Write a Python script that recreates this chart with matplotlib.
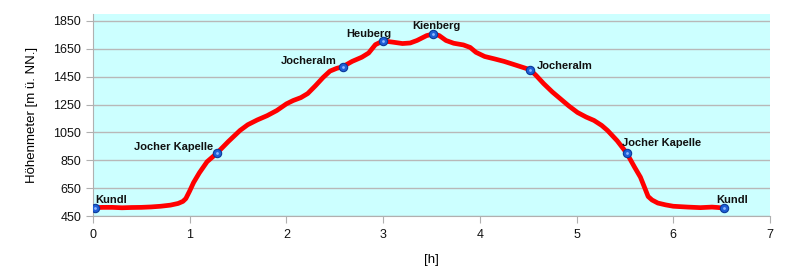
import matplotlib.pyplot as plt
import numpy as np

# profile of the walk: time [h] vs. altitude [m]
t = [0.02, 0.1, 0.2, 0.3, 0.4, 0.5, 0.6, 0.7, 0.8, 0.88, 0.93, 0.96,
     1.0, 1.04, 1.1, 1.18, 1.28, 1.4, 1.52, 1.6, 1.7, 1.8, 1.9, 2.0,
     2.07, 2.15, 2.22, 2.3, 2.38, 2.45, 2.52, 2.58, 2.68, 2.78, 2.85, 2.92,
     3.0, 3.1, 3.2, 3.28, 3.35, 3.45, 3.52, 3.58, 3.65, 3.73, 3.83, 3.9,
     3.96, 4.05, 4.15, 4.25, 4.39, 4.52, 4.58, 4.66, 4.75, 4.83, 4.92, 5.01,
     5.1, 5.18, 5.26, 5.32, 5.42, 5.52, 5.6, 5.66, 5.7, 5.74, 5.78, 5.84,
     5.92, 6.0, 6.15, 6.28, 6.4, 6.46, 6.52]
h = [510, 512, 512, 509, 511, 512, 515, 520, 528, 540, 555, 575,
     630, 690, 760, 840, 900, 985, 1064, 1105, 1140, 1170, 1207, 1255,
     1279, 1300, 1329, 1385, 1445, 1490, 1510, 1521, 1560, 1590, 1620, 1680,
     1707, 1698, 1688, 1692, 1710, 1745, 1757, 1745, 1710, 1690, 1678, 1660,
     1625, 1595, 1578, 1560, 1529, 1500, 1460, 1400, 1340, 1293, 1240, 1193,
     1160, 1136, 1100, 1064, 990, 900, 800, 729, 660, 590, 565, 543,
     530, 520, 514, 510, 514, 511, 507]

# waypoints
wp_names = ["Kundl", "Jocher Kapelle", "Jocheralm", "Heuberg", "Kienberg",
            "Jocheralm", "Jocher Kapelle", "Kundl"]
wp_t = [0.02, 1.28, 2.58, 3.0, 3.52, 4.52, 5.52, 6.52]
wp_h = [510, 900, 1521, 1707, 1757, 1500, 900, 507]
# label offsets in points (dx, dy) and alignment
wp_off = [(0, 2, "left"), (-2.5, 1, "right"), (-4, 0.5, "right"), (6, 1.5, "right"),
          (2, 2, "center"), (5, -1, "left"), (-3.5, 4, "left"), (-5, 2.5, "left")]

plt.rcParams['font.family'] = ['Liberation Sans', 'DejaVu Sans']

fig = plt.figure(figsize=(7.9, 2.79), dpi=100)
ax = fig.add_axes([0.1177, 0.2258, 0.857, 0.724])
ax.set_facecolor('#ccffff')

ax.plot(t, h, color='#ff0000', lw=3.4, solid_capstyle='round',
        solid_joinstyle='round', zorder=3)
ax.plot(wp_t, wp_h, 'o', ms=6, color='#1f5fd6', mec='#0a3a9a', mew=0.8, zorder=4)
ax.plot(wp_t, wp_h, 'o', ms=2, color='#8fb8ff', mew=0, zorder=5)

for name, x, y, (dx, dy, ha) in zip(wp_names, wp_t, wp_h, wp_off):
    ax.annotate(name, (x, y), xytext=(dx, dy), textcoords='offset points',
                ha=ha, va='bottom', fontsize=8, fontweight='bold', color='#111111')

ax.set_xlim(0, 7)
ax.set_ylim(450, 1900)
ax.set_xticks(range(8))
ax.set_yticks(np.arange(450, 1851, 200))
ax.grid(axis='y', color='#b8b8b8', lw=1)
ax.set_axisbelow(True)

for s in ['top', 'right']:
    ax.spines[s].set_visible(False)
for s in ['left', 'bottom']:
    ax.spines[s].set_color('#b0b0b0')
ax.tick_params(colors='#b0b0b0', labelcolor='#111111', labelsize=9, length=5)
ax.tick_params(axis='x', pad=4)

ax.set_ylabel("Höhenmeter [m ü. NN.]", fontsize=9.5, labelpad=11)
ax.set_xlabel("[h]", fontsize=9.5, labelpad=10)

fig.savefig("out.png", dpi=100)
